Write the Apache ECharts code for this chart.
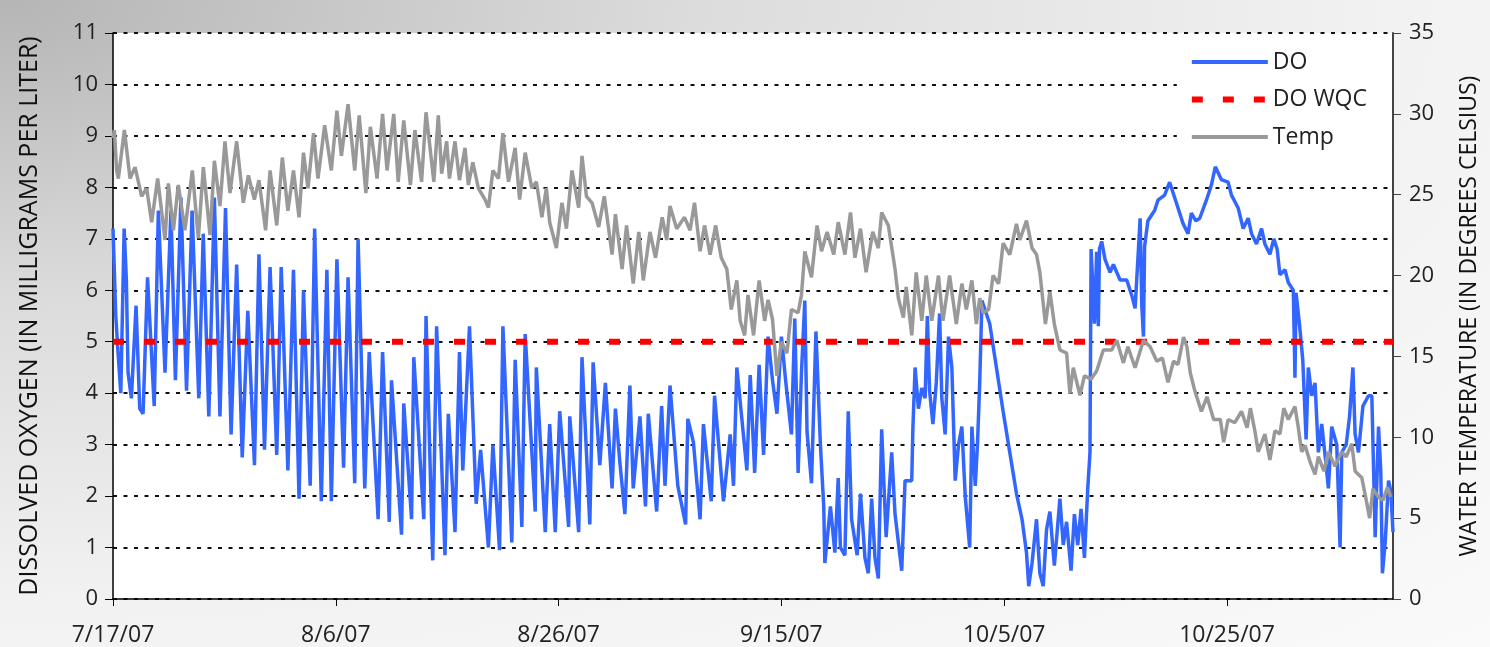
<!DOCTYPE html>
<html>
<head>
<meta charset="utf-8">
<title>DO and Temp</title>
<script src="https://cdn.jsdelivr.net/npm/echarts@6.0.0/dist/echarts.min.js"></script>
<style>
  html, body { margin: 0; padding: 0; }
  #chart {
    width: 1490px;
    height: 647px;
    background: radial-gradient(ellipse farthest-corner at 0 0, #b5b5b5 0%, #dcdcdc 33%, #f2f2f2 66%, #fafafa 100%);
  }
</style>
</head>
<body>
<div id="chart"></div>
<script>
// days since 7/17/07
var xTickLabels = ["7/17/07", "8/6/07", "8/26/07", "9/15/07", "10/5/07", "10/25/07"];

var doDays = [
  0.0, 0.25, 0.45, 0.7, 1.0, 1.2, 1.35, 1.65, 2.07, 2.4, 2.7, 3.1, 3.7, 4.07, 4.67, 5.2, 5.6, 6.1, 6.6, 7.1,
  7.7, 8.1, 8.6, 9.1, 9.6, 10.1, 10.6, 11.1, 11.6, 12.1, 12.7, 13.1, 13.6, 14.1, 14.7, 15.1, 15.7, 16.2, 16.7, 17.1,
  17.7, 18.1, 18.7, 19.2, 19.6, 20.1, 20.7, 21.1, 21.7, 22.0, 22.6, 23.0, 23.8, 24.2, 24.8, 25.0, 25.9, 26.1, 26.8, 27.0,
  27.9, 28.1, 28.7, 29.05, 29.8, 30.1, 30.7, 31.1, 31.4, 32.0, 32.6, 33.0, 33.7, 34.1, 34.7, 35.0, 35.8, 36.1, 36.7, 37.0,
  37.9, 38.0, 38.8, 39.2, 39.7, 40.1, 40.9, 41.0, 41.8, 42.1, 42.8, 43.1, 43.7, 44.2, 44.8, 45.1, 45.5, 45.95, 46.4, 46.7,
  47.3, 47.8, 48.05, 48.8, 49.25, 49.55, 50.0, 50.7, 51.4, 51.6, 52.1, 52.7, 53.0, 53.7, 54.0, 54.8, 55.4, 55.7, 56.0, 56.9,
  57.2, 57.6, 58.0, 58.4, 58.8, 59.2, 59.6, 60.0, 60.4, 60.9, 61.2, 61.5, 61.8, 62.1, 62.3, 62.7, 63.1, 63.5, 63.8, 63.9,
  64.4, 64.8, 65.1, 65.3, 65.7, 66.0, 66.3, 66.8, 67.1, 67.5, 67.8, 68.1, 68.4, 68.7, 69.0, 69.4, 69.9, 70.2, 70.8, 71.1,
  71.7, 71.8, 72.0, 72.3, 72.6, 72.9, 73.1, 73.3, 73.6, 73.9, 74.2, 74.4, 74.7, 75.0, 75.3, 75.6, 75.9, 76.2, 76.5, 76.9,
  77.1, 77.4, 77.6, 77.8, 78.0, 78.7, 79.3, 79.9, 80.5, 81.1, 81.6, 82.0, 82.2, 82.5, 82.9, 83.2, 83.5, 83.8, 84.1, 84.5,
  85.0, 85.3, 85.6, 86.0, 86.3, 86.6, 86.9, 87.2, 87.5, 87.7, 87.8, 88.1, 88.3, 88.45, 88.55, 88.75, 89.05, 89.5, 89.8, 90.4,
  91.0, 91.45, 91.75, 92.05, 92.2, 92.35, 92.5, 92.6, 92.9, 93.5, 93.8, 94.4, 94.85, 95.45, 96.05, 96.5, 96.8, 97.2, 97.55, 98.15,
  98.6, 98.95, 99.5, 100.1, 100.4, 101.0, 101.45, 101.9, 102.2, 102.65, 103.1, 103.4, 103.85, 104.2, 104.5, 104.75, 105.2, 105.5, 105.95, 106.1,
  106.2, 106.5, 106.8, 107.1, 107.3, 107.6, 107.9, 108.2, 108.5, 108.8, 109.1, 109.4, 109.85, 110.15, 110.3, 110.7, 111.0, 111.3, 111.5, 111.8,
  112.2, 112.7, 113.0, 113.3, 113.6, 113.8, 113.95, 114.2, 114.5, 114.7, 114.9
];
var doVals = [
  7.2, 5.5, 4.8, 4.0, 7.2, 6.2, 4.4, 3.9, 5.7, 3.7, 3.6, 6.25, 3.75, 7.55, 4.4, 7.55, 4.25, 7.8, 4.05, 7.55,
  3.9, 7.1, 3.55, 7.8, 3.55, 7.6, 3.2, 6.5, 2.75, 5.6, 2.6, 6.7, 2.9, 6.45, 2.8, 6.45, 2.5, 6.4, 1.95, 6.0,
  2.2, 7.2, 1.9, 6.4, 1.9, 6.6, 2.55, 6.25, 2.25, 7.0, 2.15, 4.8, 1.55, 4.8, 1.5, 4.25, 1.25, 3.8, 1.55, 4.7,
  1.55, 5.5, 0.75, 5.3, 0.85, 3.6, 1.3, 4.8, 2.5, 5.3, 1.85, 2.9, 1.0, 3.0, 0.95, 5.3, 1.1, 4.65, 1.4, 5.15,
  1.7, 4.5, 1.3, 3.4, 1.3, 3.65, 1.4, 3.55, 1.3, 4.7, 1.45, 4.6, 2.6, 4.2, 2.15, 3.7, 2.65, 1.65, 4.15, 2.15,
  3.55, 1.8, 3.6, 1.7, 3.75, 2.2, 4.15, 2.2, 1.45, 3.5, 3.05, 1.55, 3.4, 1.9, 3.95, 1.9, 3.2, 2.2, 4.5, 2.5,
  4.35, 2.45, 4.55, 2.8, 5.1, 4.25, 3.6, 5.1, 4.2, 3.2, 5.45, 2.45, 4.4, 5.8, 3.25, 2.25, 5.2, 3.0, 1.8, 0.7,
  1.8, 0.9, 2.35, 1.0, 0.85, 3.65, 1.55, 0.85, 2.05, 0.8, 0.5, 1.95, 0.8, 0.4, 3.3, 1.2, 2.85, 1.65, 0.55, 2.3,
  2.3, 3.3, 4.5, 3.7, 4.1, 3.9, 5.5, 4.05, 3.4, 4.2, 5.55, 3.9, 3.2, 5.1, 4.5, 2.3, 3.0, 3.35, 2.0, 1.0,
  3.35, 2.2, 3.0, 4.2, 5.8, 5.35, 4.5, 3.65, 2.85, 2.05, 1.55, 0.9, 0.25, 0.7, 1.55, 0.5, 0.25, 1.35, 1.7, 0.65,
  1.95, 1.05, 1.5, 0.55, 1.65, 1.05, 1.75, 0.8, 2.15, 2.85, 6.8, 5.35, 6.75, 5.3, 6.8, 6.95, 6.6, 6.35, 6.5, 6.2,
  6.2, 5.9, 5.65, 6.8, 7.4, 5.7, 5.1, 6.85, 7.35, 7.55, 7.75, 7.85, 8.1, 7.7, 7.3, 7.1, 7.5, 7.35, 7.4, 7.75,
  8.05, 8.4, 8.15, 8.1, 7.85, 7.6, 7.2, 7.4, 7.1, 6.9, 7.2, 6.9, 6.7, 7.0, 6.8, 6.3, 6.4, 6.15, 6.0, 4.3,
  5.95, 5.35, 4.65, 3.1, 4.5, 3.95, 4.2, 2.85, 3.4, 2.8, 2.15, 3.35, 3.0, 1.0, 2.85, 3.0, 3.55, 4.5, 3.2, 2.85,
  3.75, 3.95, 3.95, 1.2, 3.35, 2.5, 0.5, 1.1, 2.3, 2.1, 1.3
];

var wqcDays = [0, 114.9];
var wqcVals = [5, 5];

var tempDays = [
  0.0, 0.12, 0.33, 0.48, 1.02, 1.53, 1.98, 2.57, 3.02, 3.47, 4.01, 4.67, 4.97, 5.42, 5.86, 6.46, 7.12, 7.66, 8.11, 8.71,
  9.1, 9.6, 10.05, 10.5, 11.1, 11.7, 12.15, 12.69, 13.1, 13.7, 14.1, 14.7, 15.2, 15.7, 16.2, 16.7, 17.1, 17.5, 18.0, 18.4,
  19.0, 19.6, 20.1, 20.5, 21.1, 21.7, 22.1, 22.7, 23.1, 23.7, 24.2, 24.6, 25.2, 25.6, 26.1, 26.7, 27.1, 27.7, 28.1, 28.8,
  29.2, 29.5, 29.95, 30.2, 30.7, 31.1, 31.6, 31.9, 32.3, 32.8, 33.4, 33.7, 34.1, 34.6, 35.0, 35.5, 36.1, 36.5, 37.0, 37.6,
  38.0, 38.5, 38.9, 39.2, 39.8, 40.3, 40.7, 41.2, 41.8, 42.1, 42.5, 43.0, 43.6, 44.1, 44.8, 45.1, 45.7, 46.1, 46.7, 47.2,
  47.6, 48.2, 48.7, 49.3, 49.7, 50.0, 50.6, 51.3, 51.8, 52.2, 52.7, 53.1, 53.6, 54.1, 54.6, 55.1, 55.5, 56.0, 56.3, 56.7,
  57.0, 57.5, 58.0, 58.5, 58.8, 59.2, 59.6, 60.0, 60.5, 60.9, 61.5, 61.8, 62.1, 62.7, 63.2, 63.6, 64.1, 64.7, 65.1, 65.7,
  66.2, 66.6, 67.1, 67.6, 68.2, 68.7, 69.0, 69.6, 70.2, 70.5, 70.95, 71.2, 71.7, 72.1, 72.6, 73.0, 73.5, 74.1, 74.5, 75.1,
  75.7, 76.2, 76.6, 77.1, 77.5, 77.8, 78.1, 78.6, 79.0, 79.5, 79.9, 80.5, 81.1, 81.4, 82.0, 82.5, 82.9, 83.2, 83.7, 84.1,
  84.5, 85.0, 85.6, 85.9, 86.2, 86.8, 87.2, 87.8, 88.3, 88.9, 89.65, 90.1, 90.7, 91.1, 91.75, 92.5, 93.1, 93.7, 94.2, 94.7,
  95.2, 95.6, 96.1, 96.4, 96.7, 97.1, 97.7, 98.2, 98.8, 99.4, 99.7, 100.1, 100.7, 101.3, 101.8, 102.1, 102.5, 102.8, 103.4, 103.85,
  104.3, 104.75, 105.1, 105.5, 106.1, 106.4, 106.7, 107.0, 107.5, 107.9, 108.2, 108.7, 109.1, 109.7, 110.3, 110.7, 111.2, 111.5, 112.1, 112.5,
  112.8, 113.1, 113.6, 114.0, 114.4, 114.7
];
var tempVals = [
  28.5, 29.0, 26.5, 26.0, 29.0, 26.0, 26.7, 24.9, 25.4, 23.3, 26.0, 22.2, 25.7, 22.8, 25.6, 22.8, 26.5, 22.3, 26.7, 22.5,
  27.1, 24.3, 28.3, 25.1, 28.3, 24.5, 26.2, 24.7, 25.9, 22.8, 26.5, 23.1, 27.3, 24.0, 26.5, 23.6, 27.6, 25.4, 28.8, 26.0,
  29.3, 26.5, 30.2, 27.4, 30.6, 26.5, 29.9, 25.1, 29.2, 26.0, 30.0, 26.5, 30.0, 25.8, 29.6, 25.6, 29.0, 25.8, 30.1, 25.8,
  29.9, 26.3, 28.3, 26.0, 28.3, 25.9, 27.9, 25.6, 27.0, 25.4, 24.7, 24.2, 26.5, 26.0, 28.8, 25.8, 27.9, 24.7, 27.6, 25.4,
  25.8, 23.6, 25.4, 23.3, 21.7, 24.5, 22.9, 26.5, 24.2, 27.4, 24.9, 24.5, 23.0, 24.9, 21.3, 23.8, 20.4, 23.1, 19.5, 22.7,
  19.7, 22.7, 21.1, 23.6, 22.2, 24.3, 22.9, 23.6, 22.8, 24.5, 21.5, 23.1, 21.3, 23.1, 21.1, 20.4, 17.9, 19.7, 17.2, 16.3,
  18.8, 16.3, 19.7, 17.2, 18.5, 17.3, 13.8, 15.9, 15.2, 17.9, 17.7, 18.8, 21.5, 19.9, 23.1, 21.5, 22.7, 21.3, 23.3, 21.3,
  23.9, 21.1, 22.9, 20.2, 22.7, 21.7, 23.9, 23.1, 20.4, 18.6, 17.4, 19.3, 16.3, 20.2, 17.2, 20.0, 17.2, 20.0, 17.2, 20.0,
  17.0, 19.5, 17.9, 19.7, 17.0, 18.6, 17.7, 17.9, 20.0, 19.5, 22.0, 21.3, 23.2, 22.2, 23.4, 21.7, 21.3, 20.2, 17.0, 19.0,
  17.0, 15.4, 15.2, 12.7, 14.3, 12.6, 13.8, 13.6, 14.1, 15.4, 15.4, 16.0, 14.6, 15.6, 14.3, 16.0, 15.6, 14.7, 14.9, 13.4,
  14.7, 14.5, 16.2, 15.6, 14.0, 12.9, 11.6, 12.5, 11.1, 11.1, 9.7, 11.1, 10.9, 11.6, 10.6, 11.8, 10.4, 9.1, 10.2, 8.6,
  10.4, 10.2, 11.8, 11.1, 11.9, 10.6, 9.1, 9.5, 8.4, 7.7, 8.8, 7.9, 9.1, 8.2, 9.1, 8.8, 9.6, 7.9, 7.5, 6.1,
  5.0, 6.8, 6.3, 6.1, 6.9, 6.3
];

function pairs(xs, ys) {
  var res = [];
  xs.forEach(function (x, i) {
    res.push([x, ys[i]]);
  });
  return res;
}

var font = "Open Sans";
var myChart = echarts.init(document.getElementById("chart"));
myChart.setOption({
  animation: false,
  backgroundColor: "transparent",
  grid: {
    left: 113,
    right: 97,
    top: 33,
    bottom: 48,
    show: true,
    backgroundColor: "#ffffff",
    borderWidth: 0,
  },
  legend: {
    orient: "vertical",
    right: 99,
    top: 34,
    backgroundColor: "#ffffff",
    padding: [16, 24, 7, 12],
    itemWidth: 76,
    itemHeight: 6,
    itemGap: 13.5,
    itemStyle: { opacity: 0 },
    textStyle: {
      color: "#222",
      fontSize: 23,
      lineHeight: 24,
      fontFamily: font,
    },
    data: [
      { name: "DO", lineStyle: { width: 4 } },
      { name: "DO WQC", lineStyle: { width: 6, type: [11, 20], cap: "butt" } },
      { name: "Temp", lineStyle: { width: 4 } },
    ],
  },
  xAxis: {
    type: "value",
    min: 0,
    max: 114.9,
    interval: 20,
    axisLine: { show: true, onZero: false, lineStyle: { color: "#000", width: 1.5 } },
    axisTick: { show: true, length: 7, lineStyle: { color: "#000" } },
    axisLabel: {
      margin: 25,
      fontSize: 23,
      color: "#222",
      fontFamily: font,
      showMaxLabel: false,
      formatter: function (v) {
        if (v % 20 !== 0) return "";
        return xTickLabels[v / 20] || "";
      },
    },
    splitLine: { show: false },
  },
  yAxis: [
    {
      type: "value",
      min: 0,
      max: 11,
      interval: 1,
      position: "left",
      name: "DISSOLVED OXYGEN (IN MILLIGRAMS PER LITER)",
      nameLocation: "middle",
      nameGap: 71,
      nameRotate: 90,
      nameTextStyle: { fontSize: 25, color: "#111", fontFamily: font },
      axisLine: { show: true, lineStyle: { color: "#000", width: 1.5 } },
      axisTick: { show: true, length: 8, lineStyle: { color: "#000" } },
      axisLabel: { margin: 15, fontSize: 22, color: "#222", fontFamily: font },
      splitLine: {
        show: true,
        lineStyle: { color: "#111", width: 2, type: [4, 6.5] },
      },
    },
    {
      type: "value",
      min: 0,
      max: 35,
      interval: 5,
      position: "right",
      name: "WATER TEMPERATURE (IN DEGREES CELSIUS)",
      nameLocation: "middle",
      nameGap: 65,
      nameRotate: 90,
      nameTextStyle: { fontSize: 23, color: "#111", fontFamily: font },
      axisLine: { show: true, lineStyle: { color: "#444", width: 2 } },
      axisTick: { show: true, length: 8, lineStyle: { color: "#444" } },
      axisLabel: { margin: 16, fontSize: 22, color: "#222", fontFamily: font },
      splitLine: { show: false },
    },
  ],
  series: [
    {
      name: "DO",
      type: "line",
      yAxisIndex: 0,
      symbol: "none",
      color: "#3366ff",
      lineStyle: { color: "#3366ff", width: 3.5 },
      data: pairs(doDays, doVals),
    },
    {
      name: "DO WQC",
      type: "line",
      yAxisIndex: 0,
      symbol: "none",
      color: "#ff0000",
      lineStyle: { color: "#ff0000", width: 6, type: [11, 20], cap: "butt" },
      data: pairs(wqcDays, wqcVals),
    },
    {
      name: "Temp",
      type: "line",
      yAxisIndex: 1,
      symbol: "none",
      color: "#999999",
      lineStyle: { color: "#999999", width: 3.5 },
      data: pairs(tempDays, tempVals),
    },
  ],
});
</script>
</body>
</html>
